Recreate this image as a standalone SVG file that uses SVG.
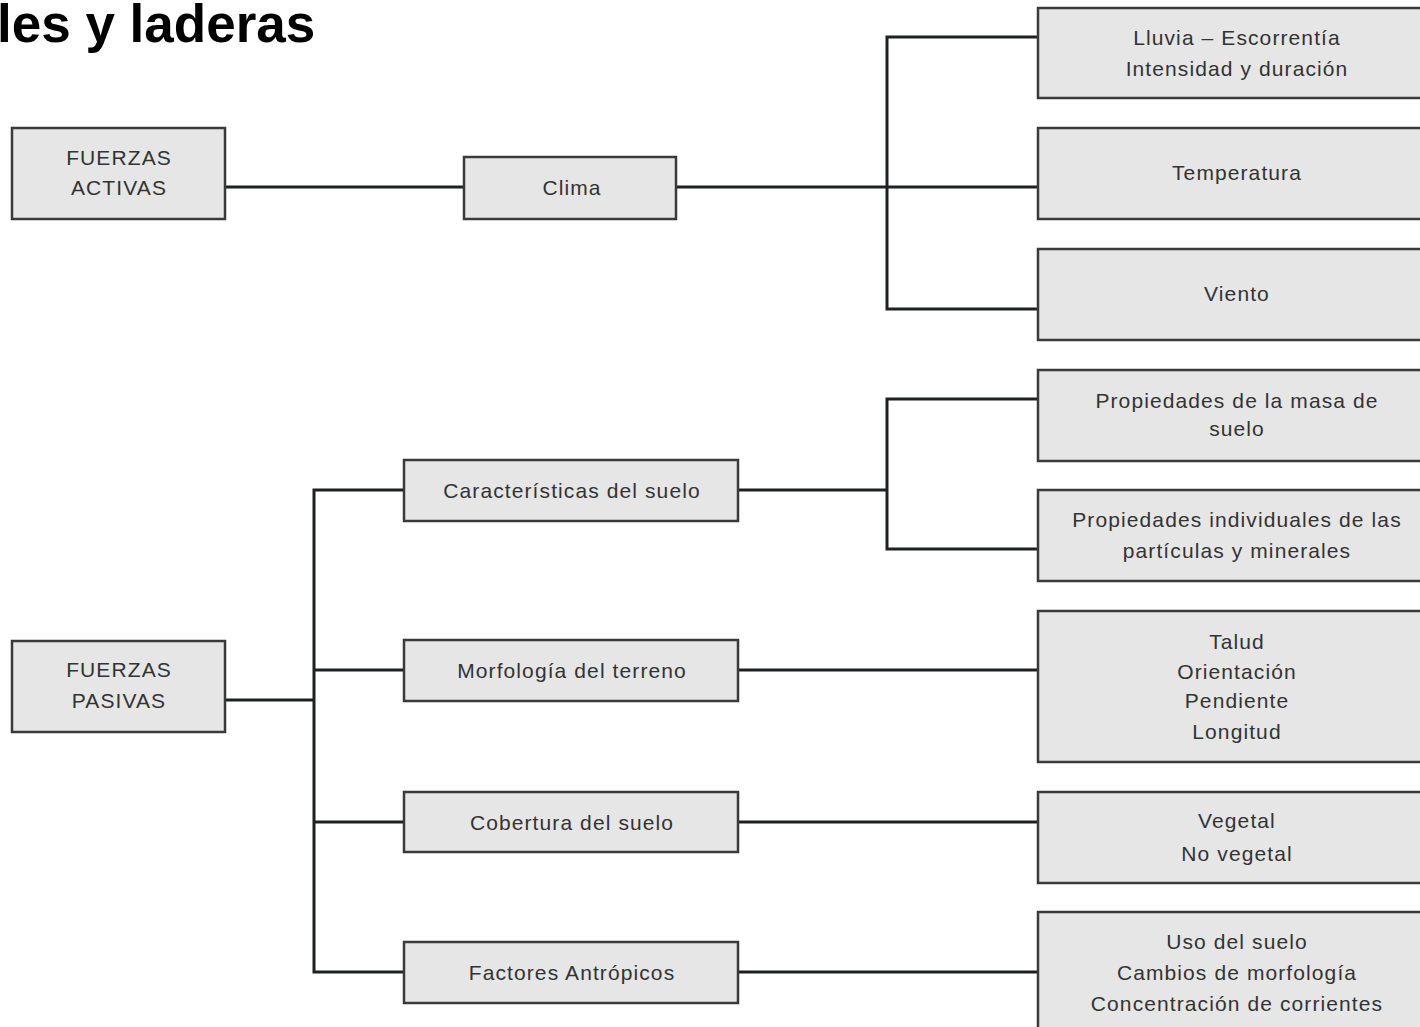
<svg xmlns="http://www.w3.org/2000/svg" width="1420" height="1027" viewBox="0 0 1420 1027">
<style>
.box{fill:#e6e6e6;stroke:#3a3a3a;stroke-width:2.5}
.t{font-family:"Liberation Sans",Arial,sans-serif;font-size:21px;letter-spacing:1.1px;fill:#333;text-anchor:middle}
.ln{stroke:#1e2022;stroke-width:3;fill:none;stroke-linecap:square}
.title{font-family:"Liberation Sans",Arial,sans-serif;font-size:53px;font-weight:bold;fill:#000}
</style>
<rect width="1420" height="1027" fill="#fff"/>
<text class="title" x="-3" y="42">les y laderas</text>
<g id="connectors">
<path class="ln" d="M225 187H464M676 187H1038M887 37V309M887 37H1038M887 309H1038"/>
<path class="ln" d="M225 700H314M314 490V972M314 490H404M314 670H404M314 822H404M314 972H404"/>
<path class="ln" d="M738 490H887M887 399V549M887 399H1038M887 549H1038"/>
<path class="ln" d="M738 670H1038M738 822H1038M738 972H1038"/>
</g>
<g id="fuerzas-activas"><rect class="box" x="12" y="128" width="213" height="91"/><text class="t" x="119" y="165">FUERZAS</text><text class="t" x="119" y="195">ACTIVAS</text></g>
<g id="clima"><rect class="box" x="464" y="157" width="212" height="62"/><text class="t" x="572" y="195">Clima</text></g>
<g id="lluvia"><rect class="box" x="1038" y="8" width="396" height="90"/><text class="t" x="1237" y="45">Lluvia – Escorrentía</text><text class="t" x="1237" y="76">Intensidad y duración</text></g>
<g id="temperatura"><rect class="box" x="1038" y="128" width="396" height="91"/><text class="t" x="1237" y="180">Temperatura</text></g>
<g id="viento"><rect class="box" x="1038" y="249" width="396" height="91"/><text class="t" x="1237" y="301">Viento</text></g>
<g id="prop-masa"><rect class="box" x="1038" y="370" width="396" height="91"/><text class="t" x="1237" y="408">Propiedades de la masa de</text><text class="t" x="1237" y="436">suelo</text></g>
<g id="prop-ind"><rect class="box" x="1038" y="490" width="396" height="91"/><text class="t" x="1237" y="527">Propiedades individuales de las</text><text class="t" x="1237" y="558">partículas y minerales</text></g>
<g id="talud"><rect class="box" x="1038" y="611" width="396" height="151"/><text class="t" x="1237" y="649">Talud</text><text class="t" x="1237" y="679">Orientación</text><text class="t" x="1237" y="708">Pendiente</text><text class="t" x="1237" y="739">Longitud</text></g>
<g id="vegetal"><rect class="box" x="1038" y="792" width="396" height="91"/><text class="t" x="1237" y="828">Vegetal</text><text class="t" x="1237" y="861">No vegetal</text></g>
<g id="uso"><rect class="box" x="1038" y="912" width="396" height="130"/><text class="t" x="1237" y="949">Uso del suelo</text><text class="t" x="1237" y="980">Cambios de morfología</text><text class="t" x="1237" y="1011">Concentración de corrientes</text></g>
<g id="caracteristicas"><rect class="box" x="404" y="460" width="334" height="61"/><text class="t" x="572" y="498">Características del suelo</text></g>
<g id="morfologia"><rect class="box" x="404" y="640" width="334" height="61"/><text class="t" x="572" y="678">Morfología del terreno</text></g>
<g id="cobertura"><rect class="box" x="404" y="792" width="334" height="60"/><text class="t" x="572" y="830">Cobertura del suelo</text></g>
<g id="factores"><rect class="box" x="404" y="942" width="334" height="61"/><text class="t" x="572" y="980">Factores Antrópicos</text></g>
<g id="fuerzas-pasivas"><rect class="box" x="12" y="641" width="213" height="91"/><text class="t" x="119" y="677">FUERZAS</text><text class="t" x="119" y="708">PASIVAS</text></g>
</svg>
